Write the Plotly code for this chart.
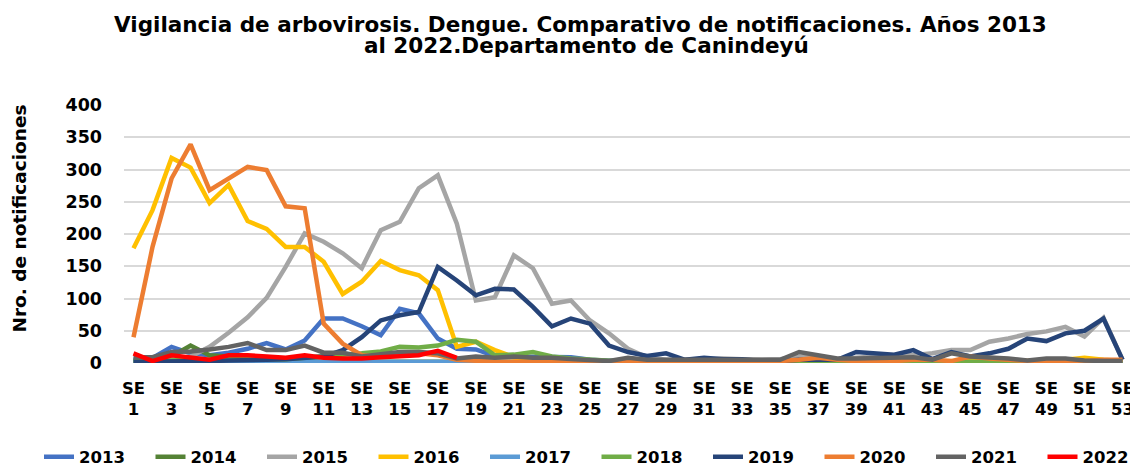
import plotly.graph_objects as go

weeks = list(range(1, 54))
tick_weeks = list(range(1, 54, 2))
tick_labels = [f"SE<br>{w}" for w in tick_weeks]

years = ["2013", "2014", "2015", "2016", "2017", "2018", "2019", "2020", "2021", "2022"]
colors = ["#4472C4", "#548235", "#A5A5A5", "#FFC000", "#5B9BD5", "#70AD47",
          "#264478", "#ED7D31", "#636363", "#FF0000"]

y2013 = [5, 8, 25, 15, 12, 16, 22, 31, 21, 35, 69, 69, 57, 43, 84, 77, 38, 22, 21, 11,
         10, 10, 10, 9, 5, 3, 2, 2, 2, 2, 2, 2, 2, 2, 2, 2, 2, 2, 2, 2,
         2, 2, 2, 2, 2, 2, 2, 2, 2, 2, 3, 3, 2]
y2014 = [3, 5, 10, 27, 12, 10, 5, 4, 3, 2, 2, 2, 2, 2, 2, 2, 2, 2, 2, 2,
         2, 2, 2, 1, 1, 1, 1, 1, 1, 1, 1, 1, 1, 1, 1, 1, 1, 1, 1, 1,
         1, 1, 1, 1, 1, 1, 1, 1, 1, 1, 1, 1, 1]
y2015 = [2, 3, 5, 10, 25, 47, 71, 101, 149, 201, 188, 170, 147, 206, 219, 271, 291, 216, 97, 102,
         167, 147, 92, 97, 66, 46, 22, 9, 5, 5, 6, 7, 6, 5, 6, 10, 8, 6, 8, 10,
         12, 12, 15, 20, 20, 33, 38, 45, 49, 56, 41, 70, 5]
y2016 = [178, 237, 318, 303, 248, 276, 220, 208, 180, 180, 157, 107, 126, 158, 144, 136, 113, 25, 33, 20,
         9, 5, 4, 3, 3, 2, 2, 2, 2, 2, 2, 2, 2, 2, 2, 2, 2, 2, 2, 2,
         2, 2, 2, 2, 2, 2, 2, 3, 3, 5, 8, 5, 3]
y2017 = [2, 2, 2, 2, 2, 2, 2, 2, 2, 2, 2, 2, 2, 2, 2, 2, 2, 2, 2, 2,
         1, 1, 1, 1, 1, 1, 1, 1, 1, 1, 1, 1, 1, 1, 1, 1, 1, 1, 1, 1,
         1, 1, 1, 1, 1, 1, 1, 1, 1, 1, 1, 1, 1]
y2018 = [3, 3, 4, 5, 5, 5, 5, 6, 6, 8, 10, 12, 15, 18, 25, 24, 27, 36, 33, 12,
         13, 17, 10, 7, 5, 3, 2, 2, 2, 2, 2, 2, 2, 2, 2, 2, 2, 2, 2, 2,
         2, 2, 2, 2, 2, 2, 2, 2, 2, 2, 2, 2, 2]
y2019 = [2, 2, 3, 3, 3, 4, 4, 5, 6, 8, 10, 20, 40, 66, 74, 79, 149, 128, 105, 115,
         114, 87, 57, 69, 61, 27, 17, 11, 15, 5, 8, 6, 6, 3, 3, 5, 5, 5, 17, 15,
         13, 20, 6, 17, 10, 15, 22, 38, 34, 46, 50, 69, 5]
y2020 = [40, 180, 286, 339, 268, 286, 304, 299, 243, 240, 61, 30, 12, 10, 15, 15, 12, 5, 3, 2,
         2, 2, 2, 2, 2, 2, 2, 2, 2, 2, 2, 2, 2, 2, 3, 5, 8, 5, 3, 3,
         3, 5, 5, 3, 10, 7, 5, 3, 3, 3, 3, 5, 5]
y2021 = [9, 9, 17, 18, 21, 25, 31, 20, 20, 27, 16, 16, 10, 13, 17, 17, 15, 7, 10, 8,
         10, 8, 8, 6, 4, 3, 8, 5, 5, 5, 5, 5, 5, 5, 5, 17, 12, 7, 7, 8,
         9, 9, 5, 15, 10, 9, 7, 4, 7, 7, 4, 3, 3]
y2022 = [15, 3, 12, 8, 5, 12, 12, 10, 8, 12, 8, 7, 7, 9, 10, 12, 19, 8]

series = [y2013, y2014, y2015, y2016, y2017, y2018, y2019, y2020, y2021, y2022]

FONT = "Verdana, DejaVu Sans, sans-serif"
# The page body has an 8px margin, so the figure is drawn 8px in from the
# window's top-left corner; size it to fill the remaining window area.
OFF = 8
W, H = 1138 - OFF, 466 - OFF
L, R, T, B = 124 - OFF, 6, 105 - OFF, 103
PW, PH = W - L - R, H - T - B


def px_x(x):
    return (x - OFF - L) / PW


def px_y(y):
    return (H - B - (y - OFF)) / PH


fig = go.Figure()
for name, vals, col in zip(years, series, colors):
    fig.add_trace(go.Scatter(
        x=weeks[:len(vals)], y=vals, name=name, mode="lines",
        line=dict(color=col, width=4.5), cliponaxis=False,
    ))

fig.update_layout(
    width=W, height=H,
    paper_bgcolor="white", plot_bgcolor="white",
    margin=dict(l=L, r=R, t=T, b=B, autoexpand=False),
    showlegend=True,
    legend=dict(
        orientation="h", x=px_x(39), xanchor="left",
        y=px_y(457), yanchor="middle",
        font=dict(family=FONT, size=16.5, color="black", weight="bold"),
        entrywidth=66.5, entrywidthmode="pixels",
        bgcolor="rgba(0,0,0,0)",
    ),
    font=dict(family=FONT, color="black"),
)

title_font = dict(family=FONT, size=21.5, color="black", weight="bold")
fig.add_annotation(
    text="Vigilancia de arbovirosis. Dengue. Comparativo de notificaciones. Años 2013",
    x=px_x(580), xref="paper", xanchor="center",
    y=px_y(24), yref="paper", yanchor="middle",
    showarrow=False, font=title_font,
)
fig.add_annotation(
    text="al 2022.Departamento de Canindeyú",
    x=px_x(586), xref="paper", xanchor="center",
    y=px_y(45.5), yref="paper", yanchor="middle",
    showarrow=False, font=title_font,
)

fig.add_annotation(
    text="Nro. de notificaciones",
    x=px_x(18.5), xref="paper", xanchor="center",
    y=px_y(219), yref="paper", yanchor="middle",
    textangle=-90, showarrow=False,
    font=dict(family=FONT, size=18.5, color="black", weight="bold"),
)

fig.update_xaxes(
    range=[0.5, 53.5], tickmode="array", tickvals=tick_weeks, ticktext=tick_labels,
    showgrid=False, zeroline=False, showline=False, ticks="",
    ticklabelstandoff=13,
    tickfont=dict(family=FONT, size=16.5, color="black", weight="bold"),
)
fig.update_yaxes(
    range=[0, 400], dtick=50, tick0=0,
    showgrid=True, gridcolor="#D9D9D9", gridwidth=2,
    zeroline=False, showline=False, ticks="",
    ticklabelstandoff=21,
    tickfont=dict(family=FONT, size=17.5, color="black", weight="bold"),
)

fig.write_html("out.html")
